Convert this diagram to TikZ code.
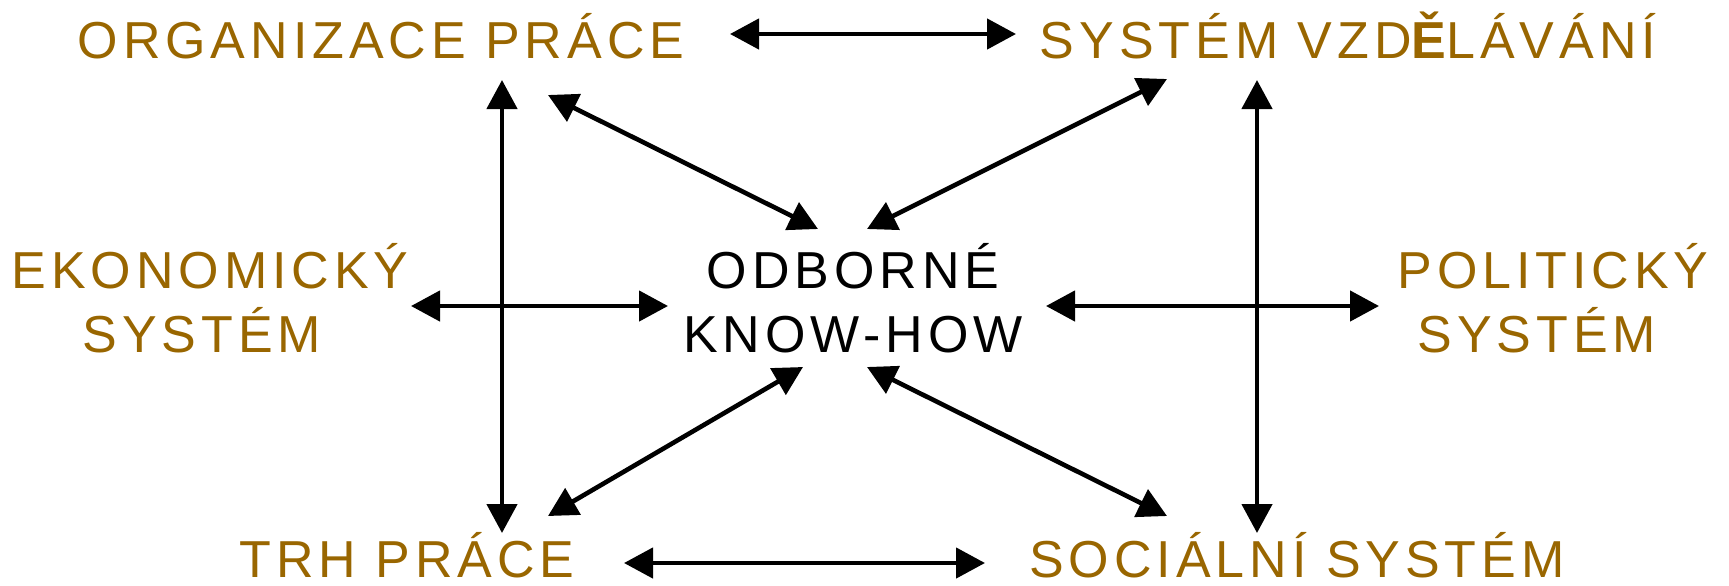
\documentclass[tikz,border=0pt]{standalone}
\usepackage{fontspec}
\usetikzlibrary{arrows.meta}
\newfontfamily\lblfont[LetterSpace=9.5]{Liberation Sans}
\definecolor{lblbrown}{RGB}{153,102,0}
\tikzset{
  lbl/.style={inner sep=0pt, anchor=base, align=center, text=lblbrown,
    font=\lblfont\fontsize{26pt}{32pt}\selectfont},
  ctr/.style={lbl, text=black},
  link/.style={line width=2.3pt, {Triangle[length=14.5pt,width=15pt]}-{Triangle[length=14.5pt,width=15pt]}},
}
\begin{document}
\begin{tikzpicture}[x=0.5pt,y=-0.5pt]
\useasboundingbox (0,0) rectangle (1729,585);
% labels
\node[lbl] (org) at (381,58) {ORGANIZACE PRÁCE};
\node[lbl] (vzd) at (1348,58) {SYSTÉM VZD{\bfseries Ě}LÁVÁNÍ};
\node[lbl] (eko) at (202,352) {\hspace*{8pt}EKONOMICKÝ\\SYSTÉM};
\node[ctr] (odb) at (853,352) {ODBORNÉ\\KNOW-HOW};
\node[lbl] (pol) at (1537,352) {\hspace*{16pt}POLITICKÝ\\SYSTÉM};
\node[lbl] (trh) at (407,577) {TRH PRÁCE};
\node[lbl] (soc) at (1297,577) {SOCIÁLNÍ SYSTÉM};
% arrow end points
\coordinate (t1) at (730,34);  \coordinate (t2) at (1016,34);
\coordinate (b1) at (624,563); \coordinate (b2) at (985,563);
\coordinate (l1) at (502,80);  \coordinate (l2) at (502,533);
\coordinate (r1) at (1257,80); \coordinate (r2) at (1257,533);
\coordinate (ml1) at (411,306); \coordinate (ml2) at (668,306);
\coordinate (mr1) at (1046,306); \coordinate (mr2) at (1379,306);
\coordinate (tl1) at (548,95); \coordinate (tl2) at (818,229);
\coordinate (tr1) at (1167,79); \coordinate (tr2) at (867,229);
\coordinate (bl1) at (548,516); \coordinate (bl2) at (803,367);
\coordinate (br1) at (867,367); \coordinate (br2) at (1167,516);
% connectors
\draw[link] (t1) -- (t2);
\draw[link] (b1) -- (b2);
\draw[link] (l1) -- (l2);
\draw[link] (r1) -- (r2);
\draw[link] (ml1) -- (ml2);
\draw[link] (mr1) -- (mr2);
\draw[link] (tl1) -- (tl2);
\draw[link] (tr1) -- (tr2);
\draw[link] (bl1) -- (bl2);
\draw[link] (br1) -- (br2);
\end{tikzpicture}
\end{document}
